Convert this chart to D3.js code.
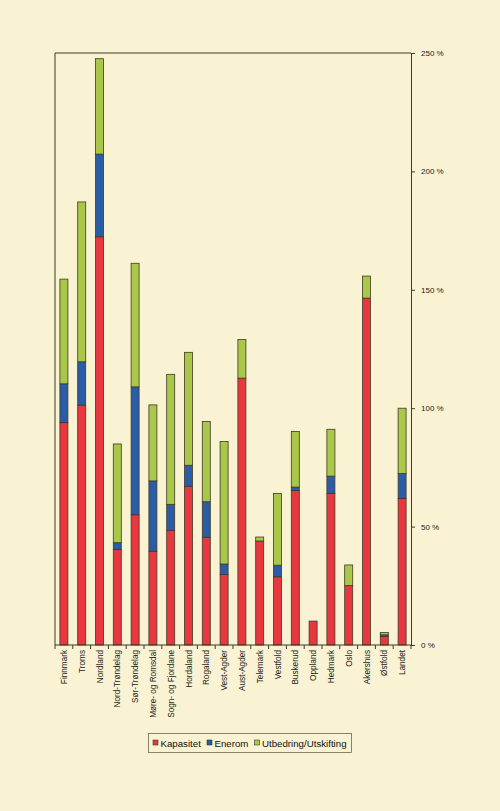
<!DOCTYPE html>
<html><head><meta charset="utf-8">
<script src="https://cdn.jsdelivr.net/npm/d3@7"></script>
<style>body{margin:0;background:#F9F3D3;}svg{display:block;}</style>
</head><body>
<script>
const categories = ["Finnmark","Troms","Nordland","Nord-Trøndelag","Sør-Trøndelag","Møre- og Romsdal","Sogn- og Fjordane","Hordaland","Rogaland","Vest-Agder","Aust-Agder","Telemark","Vestfold","Buskerud","Oppland","Hedmark","Oslo","Akershus","Østfold","Landet"];
const kapasitet = [93.9,101.3,172.4,40.3,55,39.6,48.4,67,45.5,29.8,112.7,43.9,28.8,65.2,10.1,64,25.1,146.5,3.6,61.9];
const enerom    = [16.4,18.3,34.9,2.9,54,29.7,11,8.9,15,4.4,0,0,4.9,1.5,0,7.3,0,0,0.7,10.5];
const utbedring = [44.2,67.5,40.3,41.7,52.2,32.1,54.9,47.7,33.9,51.7,16.3,1.7,30.3,23.5,0,19.8,8.7,9.3,1,27.6];
const seriesNames = ["Kapasitet","Enerom","Utbedring/Utskifting"];
const yTicks = [0,50,100,150,200,250];

const colors = ["#E8373F","#2A5CA8","#A9C84A"];
const W=500,H=811;
const m={left:55,right:89,top:53,bottom:166};
const svg=d3.select("body").append("svg").attr("width",W).attr("height",H);
svg.append("rect").attr("width",W).attr("height",H).attr("fill","#F9F3D3");

const x=d3.scaleBand().domain(categories).range([m.left,W-m.right]).paddingInner(0.55).paddingOuter(0.275);
const y=d3.scaleLinear().domain([0,250]).range([H-m.bottom,m.top]);

const rows=categories.map((c,i)=>({cat:c,Kapasitet:kapasitet[i],Enerom:enerom[i],"Utbedring/Utskifting":utbedring[i]}));
const stacked=d3.stack().keys(seriesNames)(rows);

// frame
svg.append("path").attr("d",`M${m.left},${H-m.bottom}V${m.top}H${W-m.right}`).attr("fill","none").attr("stroke","#3d3a25").attr("stroke-width",1);

stacked.forEach((s,si)=>{
  svg.append("g").selectAll("rect").data(s.filter(d=>d[1]-d[0]>0)).join("rect")
    .attr("x",d=>x(d.data.cat)).attr("width",x.bandwidth())
    .attr("y",d=>y(d[1])).attr("height",d=>y(d[0])-y(d[1]))
    .attr("fill",colors[si]).attr("stroke","#3d3a25").attr("stroke-width",0.8);
});

// x axis with ticks at band boundaries
const gx=svg.append("g").attr("transform",`translate(0,${H-m.bottom})`);
gx.append("line").attr("x1",m.left).attr("x2",W-m.right).attr("stroke","#3d3a25");
const step=x.step();
const bounds=d3.range(categories.length+1).map(i=>m.left+i*step);
gx.selectAll("line.t").data(bounds).join("line").attr("class","t").attr("x1",d=>d).attr("x2",d=>d).attr("y1",0).attr("y2",4).attr("stroke","#3d3a25");
gx.selectAll("text").data(categories).join("text")
  .attr("transform",d=>`translate(${x(d)+x.bandwidth()/2+3},5) rotate(-90)`)
  .attr("text-anchor","end").attr("font-family","Liberation Sans, Arial, sans-serif").attr("font-size","8.2px").attr("fill","#222").text(d=>d);

// right y axis
const gy=svg.append("g").attr("transform",`translate(${W-m.right},0)`)
  .call(d3.axisRight(y).tickValues(yTicks).tickFormat(d=>d+" %").tickSize(4).tickPadding(6));
gy.select(".domain").attr("stroke","#3d3a25");
gy.selectAll(".tick line").attr("stroke","#3d3a25");
gy.selectAll(".tick text").attr("font-family","Liberation Sans, Arial, sans-serif").attr("font-size","8px").attr("fill","#222");

// legend
const lg=svg.append("g");
lg.append("rect").attr("x",148.5).attr("y",733.5).attr("width",203).attr("height",19).attr("fill","none").attr("stroke","#6b6650").attr("stroke-width",0.8);
const lx=[153,207,254.5];
seriesNames.forEach((n,i)=>{
  lg.append("rect").attr("x",lx[i]).attr("y",740).attr("width",5).attr("height",5).attr("fill",colors[i]).attr("stroke","#3d3a25").attr("stroke-width",0.6);
  lg.append("text").attr("x",lx[i]+7.5).attr("y",746.5).attr("font-family","Liberation Sans, Arial, sans-serif").attr("font-size","9.7px").attr("fill","#111").text(n);
});
</script>
</body></html>
